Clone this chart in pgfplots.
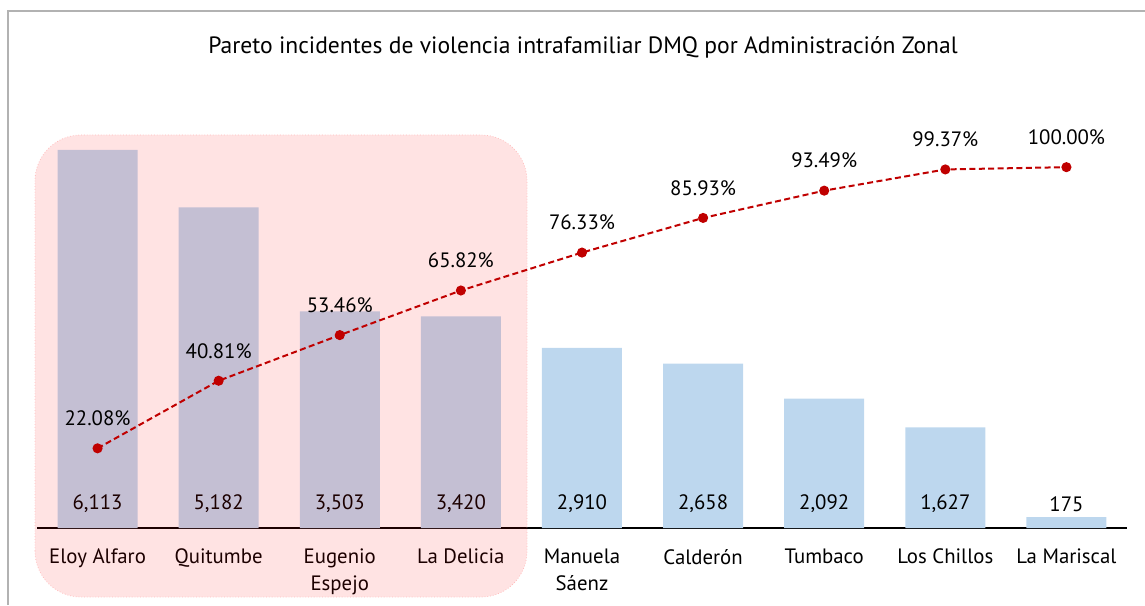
\documentclass[border=0pt]{standalone}
\usepackage{fontspec}
\setmainfont{PT Sans}
\usepackage{pgfplots}
\pgfplotsset{compat=1.18}
\definecolor{barblue}{HTML}{BDD7EE}
\definecolor{linered}{HTML}{C00000}
\begin{document}
\begin{tikzpicture}[x=0.5pt,y=0.5pt]
\path[use as bounding box] (0,0) rectangle (1145,605);
\draw[gray!60, line width=1pt] (8,0) -- (8,594) -- (1145,594);
\node[font=\fontsize{11.8}{14}\selectfont] at (583,558) {Pareto incidentes de violencia intrafamiliar DMQ por Administración Zonal};
\begin{axis}[
  at={(18.5pt,38.5pt)}, anchor=south west,
  scale only axis, width=545pt, height=216.5pt,
  xmin=-0.5, xmax=8.5, ymin=0, ymax=7000,
  axis x line*=bottom, axis y line=none,
  x axis line style={-, black, line width=1pt},
  xtick={0,...,8},
  xticklabels={Eloy Alfaro, Quitumbe, {Eugenio\\Espejo}, La Delicia, {Manuela\\Sáenz}, Calderón, Tumbaco, Los Chillos, La Mariscal},
  xticklabel style={align=center, anchor=north, yshift=-7pt, font=\fontsize{10.4}{13.5}\selectfont},
  major tick length=0pt,
  clip=false,
]
\addplot[ybar, bar width=40pt, fill=barblue, draw=none] coordinates {
(0,6113) (1,5182) (2,3503) (3,3420) (4,2910) (5,2658) (6,2092) (7,1627) (8,175)};
\addplot[only marks, mark=none, nodes near coords, point meta=explicit symbolic,
  every node near coord/.append style={anchor=center, font=\fontsize{10.4}{12}\selectfont}] coordinates {
(0,390)[6,113] (1,390)[5,182] (2,390)[3,503] (3,390)[3,420] (4,390)[2,910] (5,390)[2,658] (6,390)[2,092] (7,390)[1,627] (8,390)[175]};
\end{axis}
\draw[red!25, densely dotted, fill=red, fill opacity=0.11, rounded corners=23pt] (35,8) rectangle (527,470);
\begin{axis}[
  at={(18.5pt,38.5pt)}, anchor=south west,
  scale only axis, width=545pt, height=216.5pt,
  xmin=-0.5, xmax=8.5, ymin=0, ymax=120,
  hide axis, clip=false,
]
\addplot[linered, line width=1pt, dash pattern=on 3pt off 1.7pt, mark=*, mark size=2pt,
  mark options={solid, fill=linered},
  nodes near coords, point meta=explicit symbolic,
  every node near coord/.append style={anchor=center, yshift=15pt, text=black, font=\fontsize{10.4}{12}\selectfont}] coordinates {
(0,22.08)[22.08\%] (1,40.81)[40.81\%] (2,53.46)[53.46\%] (3,65.82)[65.82\%] (4,76.33)[76.33\%] (5,85.93)[85.93\%] (6,93.49)[93.49\%] (7,99.37)[99.37\%] (8,100)[100.00\%]};
\end{axis}
\end{tikzpicture}
\end{document}
